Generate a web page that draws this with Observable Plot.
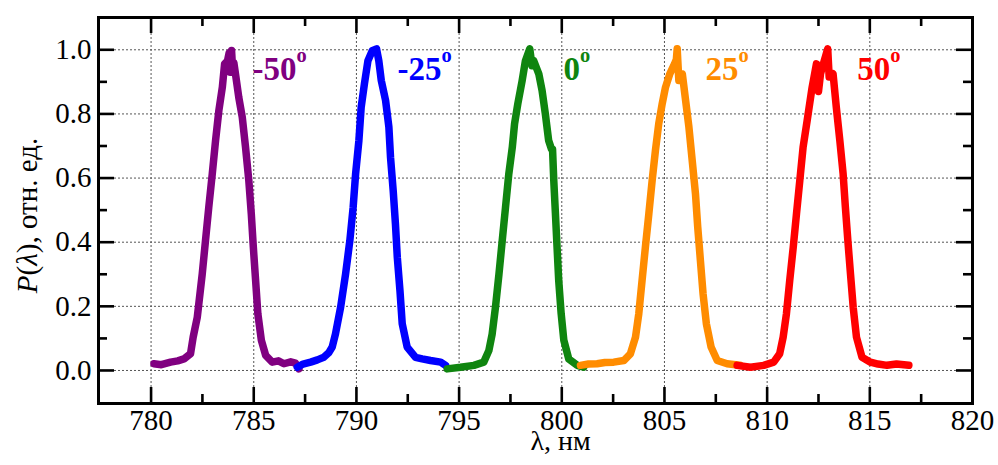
<!DOCTYPE html>
<html>
<head>
<meta charset="utf-8">
<script src="https://cdn.jsdelivr.net/npm/d3@7"></script>
<script src="https://cdn.jsdelivr.net/npm/@observablehq/plot@0.6"></script>
<style>
  html, body { margin: 0; padding: 0; background: #fff; }
  #chart svg, #chart svg text, #chart svg tspan { font-family: "Liberation Serif", "Times New Roman", "DejaVu Serif", serif !important; }
</style>
</head>
<body>
<div id="chart"></div>
<script>
// ---- data ----
const seriesNames  = ["-50", "-25", "0", "25", "50"];
const seriesColors = ["#800080", "#0000ff", "#0f850f", "#ff8c00", "#ff0000"];

const wl_m50 = [780.14, 780.5, 780.95, 781.3, 781.6, 781.92, 782.05, 782.25, 782.49, 782.65, 782.81, 782.98, 783.14, 783.3, 783.47, 783.58, 783.72, 783.8, 783.86, 783.92, 783.97, 784.03, 784.11, 784.27, 784.44, 784.6, 784.76, 784.88, 784.98, 785.09, 785.2, 785.37, 785.58, 785.9, 786.2, 786.47, 786.8, 787.03, 787.15, 787.2];
const p_m50  = [0.021, 0.018, 0.026, 0.03, 0.036, 0.052, 0.104, 0.166, 0.30, 0.405, 0.509, 0.613, 0.717, 0.81, 0.883, 0.956, 0.965, 0.99, 0.93, 0.998, 0.94, 0.96, 0.925, 0.852, 0.79, 0.696, 0.592, 0.489, 0.384, 0.281, 0.177, 0.094, 0.047, 0.026, 0.03, 0.021, 0.027, 0.023, 0.012, 0.005];

const wl_m25 = [787.12, 787.4, 787.77, 788.1, 788.41, 788.65, 788.82, 788.98, 789.23, 789.47, 789.68, 789.84, 789.96, 790.12, 790.23, 790.39, 790.56, 790.77, 790.98, 791.09, 791.21, 791.42, 791.58, 791.66, 791.79, 791.9, 791.99, 792.12, 792.23, 792.47, 792.88, 793.2, 793.61, 794.1, 794.34];
const p_m25  = [0.01, 0.02, 0.026, 0.033, 0.041, 0.055, 0.073, 0.114, 0.197, 0.30, 0.405, 0.509, 0.613, 0.717, 0.82, 0.894, 0.966, 0.997, 1.003, 0.966, 0.904, 0.842, 0.759, 0.665, 0.561, 0.457, 0.353, 0.249, 0.146, 0.073, 0.041, 0.036, 0.031, 0.026, 0.016];

const wl_0 = [794.42, 795.07, 795.72, 796.2, 796.45, 796.61, 796.77, 796.94, 797.1, 797.26, 797.42, 797.59, 797.7, 797.86, 798.07, 798.23, 798.44, 798.55, 798.63, 798.88, 799.04, 799.2, 799.36, 799.5, 799.55, 799.61, 799.69, 799.77, 799.85, 799.97, 800.1, 800.34, 800.75, 801.07];
const p_0  = [0.005, 0.01, 0.016, 0.026, 0.062, 0.114, 0.197, 0.30, 0.405, 0.509, 0.613, 0.696, 0.769, 0.832, 0.904, 0.966, 1.003, 0.95, 0.966, 0.925, 0.873, 0.80, 0.717, 0.69, 0.69, 0.592, 0.489, 0.384, 0.281, 0.177, 0.094, 0.036, 0.016, 0.01];

const wl_25 = [800.91, 801.3, 801.72, 802.1, 802.53, 803.02, 803.34, 803.59, 803.75, 803.91, 804.07, 804.24, 804.4, 804.56, 804.72, 804.89, 805.05, 805.26, 805.49, 805.58, 805.62, 805.7, 805.87, 806.03, 806.19, 806.35, 806.51, 806.62, 806.75, 806.88, 807.04, 807.27, 807.57, 808.05, 808.67];
const p_25  = [0.016, 0.02, 0.021, 0.025, 0.026, 0.031, 0.052, 0.104, 0.177, 0.281, 0.384, 0.489, 0.592, 0.686, 0.769, 0.832, 0.883, 0.925, 0.956, 0.97, 1.003, 0.904, 0.925, 0.842, 0.759, 0.655, 0.551, 0.447, 0.343, 0.239, 0.146, 0.073, 0.031, 0.021, 0.016];

const wl_50 = [808.54, 809.19, 809.83, 810.32, 810.61, 810.78, 810.94, 811.1, 811.27, 811.43, 811.59, 811.75, 811.95, 812.19, 812.4, 812.5, 812.6, 812.76, 812.95, 813.02, 813.21, 813.37, 813.54, 813.7, 813.81, 813.93, 814.06, 814.19, 814.35, 814.62, 815.03, 815.4, 815.84, 816.3, 816.9];
const p_50  = [0.016, 0.01, 0.016, 0.026, 0.052, 0.104, 0.177, 0.281, 0.384, 0.489, 0.592, 0.696, 0.78, 0.883, 0.956, 0.87, 0.925, 0.961, 1.003, 0.915, 0.925, 0.82, 0.717, 0.613, 0.509, 0.405, 0.30, 0.197, 0.104, 0.041, 0.026, 0.02, 0.016, 0.02, 0.016];

const xMajor = [780, 785, 790, 795, 800, 805, 810, 815, 820];
const xMinor = [782.5, 787.5, 792.5, 797.5, 802.5, 807.5, 812.5, 817.5];
const yMajor = [0, 0.2, 0.4, 0.6, 0.8, 1.0];
const yMinor = [0.1, 0.3, 0.5, 0.7, 0.9];

const labelX = [784.94, 792.0, 800.08, 807.0, 814.39];
const labelY = 0.94;

const xLabel = "λ, нм";
const yLabel = "P(λ), отн. ед.";

// ---- layout ----
const W = 998, H = 465;
const mL = 98, mR = 26, mT = 17, mB = 62;
const fW = W - mL - mR, fH = H - mT - mB;
const serif = "'Liberation Serif', 'Times New Roman', 'DejaVu Serif', serif";

const wlSets = [wl_m50, wl_m25, wl_0, wl_25, wl_50];
const pSets  = [p_m50, p_m25, p_0, p_25, p_50];
const rows = seriesNames.flatMap((s, i) => wlSets[i].map((w, j) => ({series: s, wl: w, p: pSets[i][j]})));

const grid = {stroke: "#555", strokeWidth: 1, strokeDasharray: "2,2"};
const tk = {stroke: "#000", strokeWidth: 2.6};

const marks = [
  Plot.ruleX(xMajor, grid),
  Plot.ruleY(yMajor, grid),
  ...seriesNames.map((s, i) => Plot.line(rows.filter(r => r.series === s), {
    x: "wl", y: "p", stroke: seriesColors[i], strokeWidth: 7.5,
    strokeLinejoin: "round", strokeLinecap: "round"
  })),
  Plot.frame({stroke: "#000", strokeWidth: 3}),
  // inward ticks on all four sides
  Plot.ruleX(xMajor, {...tk, insetTop: fH - 16}),
  Plot.ruleX(xMinor, {...tk, insetTop: fH - 9}),
  Plot.ruleX(xMajor, {...tk, insetBottom: fH - 16}),
  Plot.ruleX(xMinor, {...tk, insetBottom: fH - 9}),
  Plot.ruleY(yMajor, {...tk, insetRight: fW - 16}),
  Plot.ruleY(yMinor, {...tk, insetRight: fW - 9}),
  Plot.ruleY(yMajor, {...tk, insetLeft: fW - 16}),
  Plot.ruleY(yMinor, {...tk, insetLeft: fW - 9}),
  // tick labels through the x / y scales
  Plot.text(xMajor, {x: d => d, text: d => String(d), frameAnchor: "bottom", textAnchor: "middle", lineAnchor: "top", dy: 6, fontSize: 29, fill: "#000"}),
  Plot.text(yMajor, {y: d => d, text: d3.format(".1f"), frameAnchor: "left", textAnchor: "end", lineAnchor: "middle", dx: -7, fontSize: 29, fill: "#000"}),
  Plot.text([xLabel], {frameAnchor: "bottom", textAnchor: "start", dx: -5, dy: 46, fontSize: 28}),
  Plot.text([yLabel], {frameAnchor: "left", textAnchor: "middle", rotate: -90, dx: -71, dy: 5, fontSize: 29}),
  ...seriesNames.map((s, i) => Plot.text([s], {
    x: () => labelX[i], y: () => labelY, text: d => d, fill: seriesColors[i],
    textAnchor: "start", fontSize: 33, fontWeight: "bold"
  }))
];

const svg = Plot.plot({
  width: W, height: H,
  marginLeft: mL, marginRight: mR, marginTop: mT, marginBottom: mB,
  x: {domain: [777.44, 820], axis: null},
  y: {domain: [-0.103, 1.1007], axis: null},
  style: {fontFamily: serif, background: "#fff", color: "#000", overflow: "visible"},
  marks
});

// y-axis label: italic P and λ
d3.select(svg).selectAll("text").filter(function () { return this.textContent === yLabel; }).each(function () {
  const t = d3.select(this);
  t.text(null);
  t.append("tspan").attr("font-style", "italic").text("P");
  t.append("tspan").text("(");
  t.append("tspan").attr("font-style", "italic").text("λ");
  t.append("tspan").text("), отн. ед.");
});

// series labels: superscript "o"
d3.select(svg).selectAll("g[font-weight='bold'] text").each(function () {
  d3.select(this).append("tspan").attr("font-size", "0.62em").attr("dy", "-0.85em").text("o");
});

document.getElementById("chart").appendChild(svg);
</script>
</body>
</html>
